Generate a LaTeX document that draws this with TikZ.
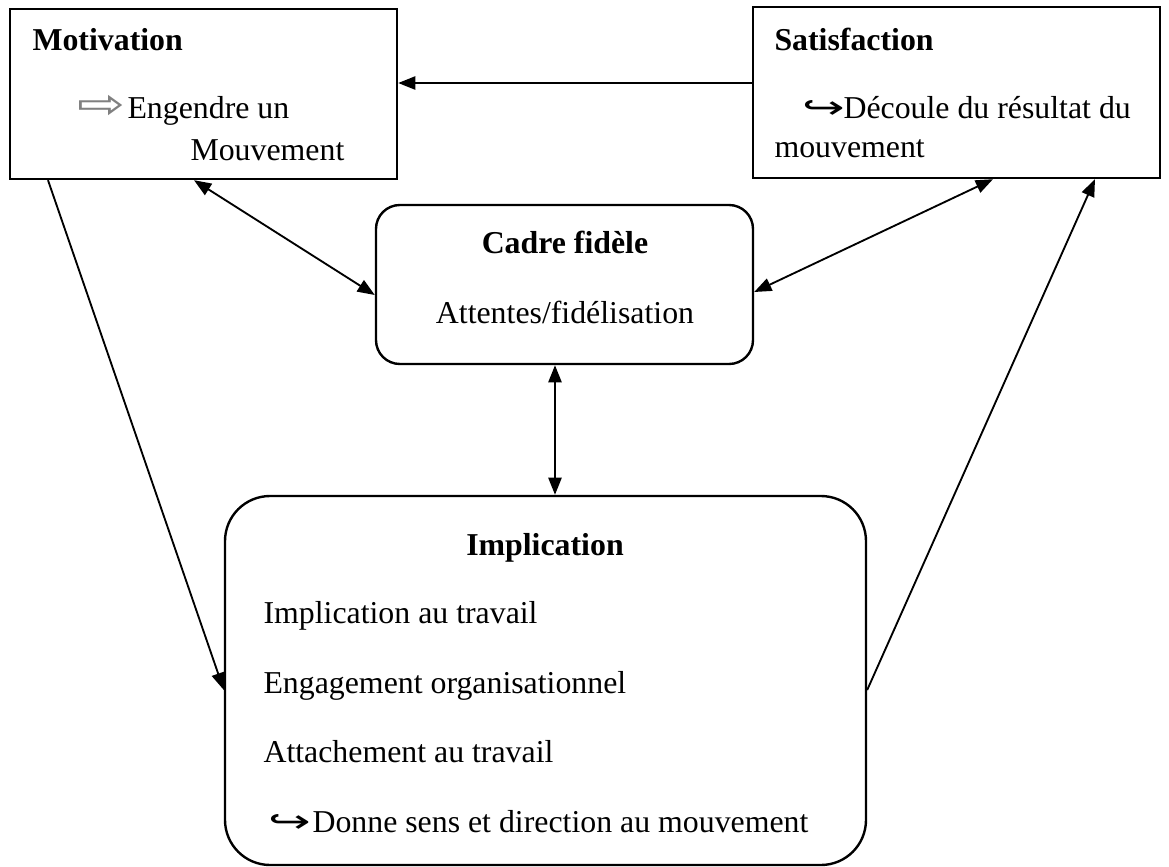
\documentclass[tikz,border=0pt]{standalone}
\usepackage{fontspec}
\setmainfont{Liberation Serif}
\newfontfamily\symfont{DejaVu Sans}
\usetikzlibrary{arrows.meta,fit}

\begin{document}
\begin{tikzpicture}[x=0.377pt, y=-0.377pt,
  box/.style={draw, line width=0.9pt, inner sep=0pt},
  txt/.style={anchor=base west, inner sep=0pt, font=\fontsize{12pt}{14pt}\selectfont},
  ttl/.style={txt, font=\fontsize{12pt}{14pt}\selectfont\bfseries},
  arr/.style={line width=0.7pt, -{Triangle[length=6.5pt,width=5pt]}},
  darr/.style={line width=0.7pt, {Triangle[length=6.5pt,width=5pt]}-{Triangle[length=6.5pt,width=5pt]}}]
\useasboundingbox (0,0) rectangle (1169,867);

% boxes
\node[box, fit={(10,9) (397,179)}] (mot) {};
\node[box, fit={(753,7) (1160,178)}] (sat) {};
\node[box, rounded corners=9pt, fit={(376,205) (753,364)}] (cadre) {};
\node[box, rounded corners=17pt, fit={(225,496) (866,865)}] (impl) {};

% Motivation
\node[ttl] (motT) at (32,50) {Motivation};
\node[txt] (motA) at (77,118) {\symfont\color{gray}\scalebox{1.8}[1.3]{⇨}};
\node[txt] (motB) at (127,118) {Engendre un};
\node[txt] (motC) at (190,160) {Mouvement};

% Satisfaction
\node[ttl] (satT) at (774,50) {Satisfaction};
\node[txt] (satA) at (802,118) {\symfont\scalebox{1.6}[1]{↪}};
\node[txt] (satB) at (843,118) {Découle du résultat du};
\node[txt] (satC) at (774,157) {mouvement};

% Cadre fidele
\node[ttl, anchor=base] (cadT) at (565,253) {Cadre fidèle};
\node[txt, anchor=base] (cadB) at (565,323) {Attentes/fidélisation};

% Implication
\node[ttl, anchor=base] (impT) at (545,555) {Implication};
\node[txt] (impA) at (263,623) {Implication au travail};
\node[txt] (impB) at (263,693) {Engagement organisationnel};
\node[txt] (impC) at (263,762) {Attachement au travail};
\node[txt] (impD) at (268,832) {\symfont\scalebox{1.6}[1]{↪}};
\node[txt] (impE) at (312,832) {Donne sens et direction au mouvement};

% liens
\draw[arr] (sat.west |- 0,83) -- (mot.east |- 0,83);
\draw[darr] (mot.south -| 194,0) -- (cadre.west |- 0,295);
\draw[darr] (sat.south -| 993,0) -- (cadre.east |- 0,292);
\draw[darr] (cadre.south -| 555,0) -- (impl.north -| 555,0);
\draw[arr] (mot.south -| 48,0) -- (impl.west |- 0,690);
\draw[arr] (impl.east |- 0,690) -- (sat.south -| 1095,0);
\end{tikzpicture}
\end{document}
